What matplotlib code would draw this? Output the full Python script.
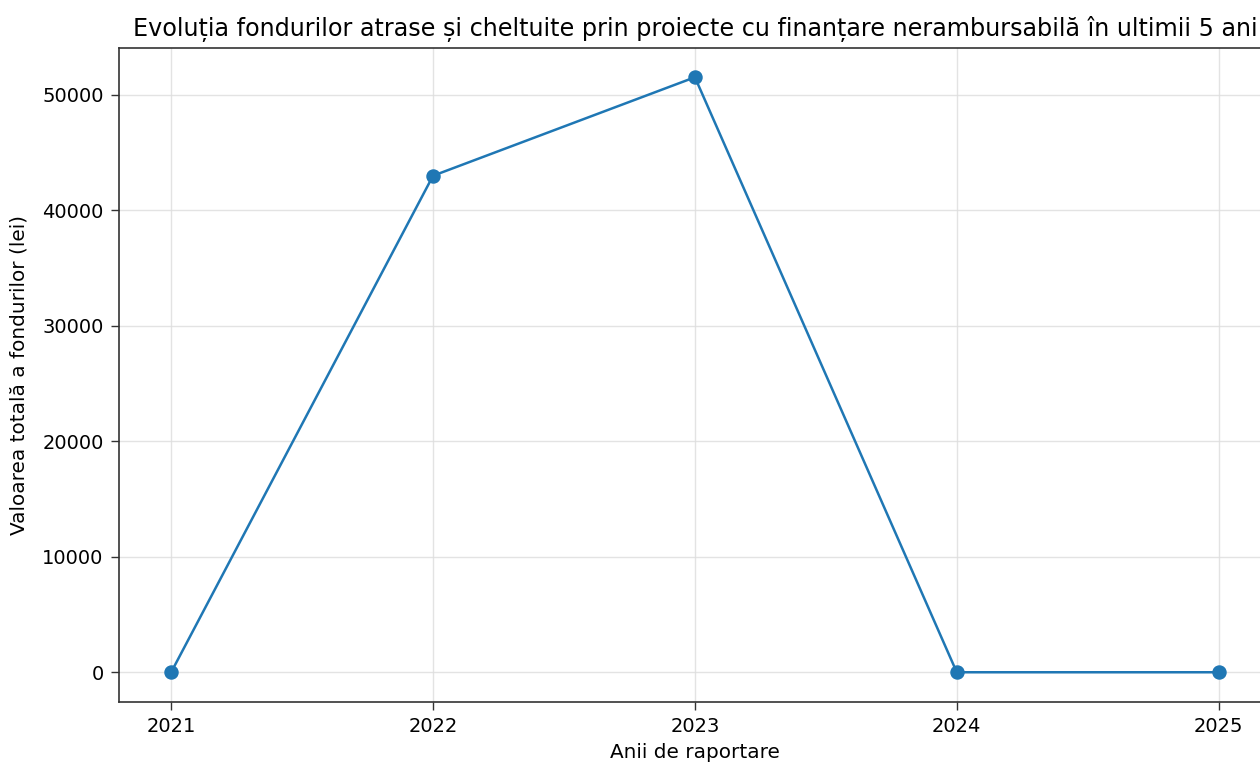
import matplotlib
matplotlib.use("Agg")
import matplotlib.pyplot as plt

years = [2021, 2022, 2023, 2024, 2025]
totals = [0, 43000, 51530, 0, 0]

TITLE = "Evoluția fondurilor atrase și cheltuite prin proiecte cu finanțare nerambursabilă în ultimii 5 ani"

fig = plt.figure(figsize=(12.6, 7.62), dpi=100)
# axes run past the right edge, as in the reference crop
left, right, top, bottom = 118.8, 1271.0, 47.5, 702.0
ax = fig.add_axes([left / 1260, 1 - bottom / 762, (right - left) / 1260, (bottom - top) / 762])

ax.plot(years, totals, marker="o", color="#1f77b4", linewidth=1.8, markersize=9.4)
ax.set_xticks(years)
ax.grid(True, color="#dddddd", linewidth=1.0, alpha=0.8)
ax.set_axisbelow(True)

ax.tick_params(labelsize=14, length=6, width=1, color="#333333", pad=5)
for s in ax.spines.values():
    s.set_color("#333333")
    s.set_linewidth(1.2)

ax.set_title(TITLE, fontsize=17.2, pad=8)
ax.set_xlabel("Anii de raportare", fontsize=14.4, labelpad=4.5)
ax.set_ylabel("Valoarea totală a fondurilor (lei)", fontsize=14.4, labelpad=10)

fig.savefig("out.png", dpi=100)
